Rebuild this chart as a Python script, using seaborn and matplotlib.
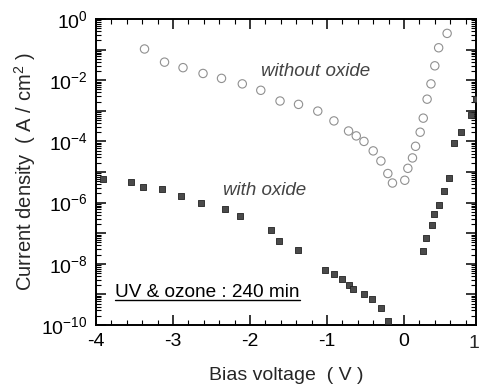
import numpy as np
import pandas as pd
import matplotlib
matplotlib.use('Agg')
import matplotlib.pyplot as plt
import matplotlib.ticker as mticker
import seaborn as sns

# values: bias (V) and log10 of current density (A/cm2)
bias_no_ox = [-3.37, -3.11, -2.87, -2.61, -2.37, -2.10, -1.86, -1.61, -1.37, -1.12,
              -0.91, -0.72, -0.62, -0.52, -0.40, -0.30, -0.21, -0.15,
              0.01, 0.05, 0.11, 0.15, 0.21, 0.25, 0.30, 0.35, 0.40, 0.45, 0.56]
logj_no_ox = [-0.98, -1.41, -1.59, -1.78, -1.94, -2.12, -2.33, -2.68, -2.79, -3.01,
              -3.33, -3.66, -3.82, -4.00, -4.31, -4.64, -5.05, -5.36,
              -5.27, -4.88, -4.54, -4.16, -3.70, -3.24, -2.62, -2.12, -1.53, -0.94, -0.47]
bias_ox = [-3.91, -3.55, -3.39, -3.14, -2.89, -2.63, -2.33, -2.13, -1.73, -1.62, -1.38,
           -1.02, -0.91, -0.81, -0.72, -0.66, -0.52, -0.42, -0.30, -0.21,
           0.25, 0.29, 0.37, 0.39, 0.45, 0.52, 0.58, 0.65, 0.74, 0.87, 0.94]
logj_ox = [-5.23, -5.33, -5.50, -5.57, -5.78, -6.00, -6.21, -6.44, -6.90, -7.27, -7.56,
           -8.20, -8.34, -8.50, -8.68, -8.81, -8.99, -9.14, -9.43, -9.86,
           -7.57, -7.16, -6.73, -6.38, -6.09, -5.62, -5.19, -4.04, -3.70, -3.14, -2.62]

x_ticks = [-4, -3, -2, -1, 0]
decades = list(range(-10, 1))

no_ox = pd.DataFrame({'bias': bias_no_ox, 'J': 10.0 ** np.array(logj_no_ox)})
ox = pd.DataFrame({'bias': bias_ox, 'J': 10.0 ** np.array(logj_ox)})

sns.set_style('ticks')
plt.rcParams['font.family'] = ['Liberation Sans', 'DejaVu Sans']
plt.rcParams['mathtext.fontset'] = 'custom'
plt.rcParams['mathtext.rm'] = 'Liberation Sans'
plt.rcParams['axes.unicode_minus'] = False

fig = plt.figure(figsize=(4.79, 3.87), dpi=100)
ax = fig.add_axes([96 / 479, 1 - 325 / 387, 380 / 479, 306 / 387])

sns.scatterplot(data=no_ox, x='bias', y='J', ax=ax, marker='o', s=36,
                facecolor='none', edgecolor='#909090', linewidth=0.8, zorder=3)
sns.scatterplot(data=ox, x='bias', y='J', ax=ax, marker='s', s=24,
                color='#4a4a4a', edgecolor='#222222', linewidth=0.6, zorder=3)

ax.set_yscale('log')
ax.set_xlim(-4, 0.935)
ax.set_ylim(1e-10, 1)

ax.xaxis.set_major_locator(mticker.FixedLocator(x_ticks))
ax.xaxis.set_minor_locator(mticker.MultipleLocator(0.2))
ax.yaxis.set_major_locator(mticker.FixedLocator([10.0 ** k for k in decades]))
ax.yaxis.set_minor_locator(mticker.FixedLocator(
    [m * 10.0 ** k for k in decades[:-1] for m in range(2, 10)]))


def ylab(v, pos):
    k = int(round(np.log10(v)))
    return r'$\mathregular{10^{%d}}$' % k if k % 2 == 0 else ''


ax.yaxis.set_major_formatter(mticker.FuncFormatter(ylab))
ax.xaxis.set_major_formatter(mticker.FormatStrFormatter('%d'))

ax.tick_params(which='both', direction='in', top=True, right=True, colors='black')
ax.tick_params(which='major', length=7, width=1.1, labelsize=14, pad=6)
ax.tick_params(which='minor', length=3.5, width=0.8)
for sp in ax.spines.values():
    sp.set_linewidth(1.4)
    sp.set_color('black')

# the "1" label at the right edge
ax.text(0.975, -0.033, '1', transform=ax.get_xaxis_transform(), ha='right', va='top',
        fontsize=14, clip_on=False)

ax.set_xlabel('Bias voltage  ( V )', fontsize=14, labelpad=12)
ax.set_ylabel('Current density  ( A / cm$^2$ )', fontsize=14.5, labelpad=2)

ax.text(-1.857, 10 ** -1.73, 'without oxide', style='italic', fontsize=13.5,
        color='#444444', ha='left', va='center')
ax.text(-2.35, 10 ** -5.59, 'with oxide', style='italic', fontsize=13.5,
        color='#444444', ha='left', va='center')
t = ax.text(-3.75, 10 ** -8.95, 'UV & ozone : 240 min', fontsize=13.7,
            color='black', ha='left', va='center')

# underline the condition label
fig.canvas.draw()
bb = t.get_window_extent().transformed(ax.transAxes.inverted())
ax.plot([bb.x0, bb.x1], [bb.y0 + 0.005, bb.y0 + 0.005], color='black', lw=1,
        transform=ax.transAxes, clip_on=False)

fig.savefig('out.png', dpi=100)
